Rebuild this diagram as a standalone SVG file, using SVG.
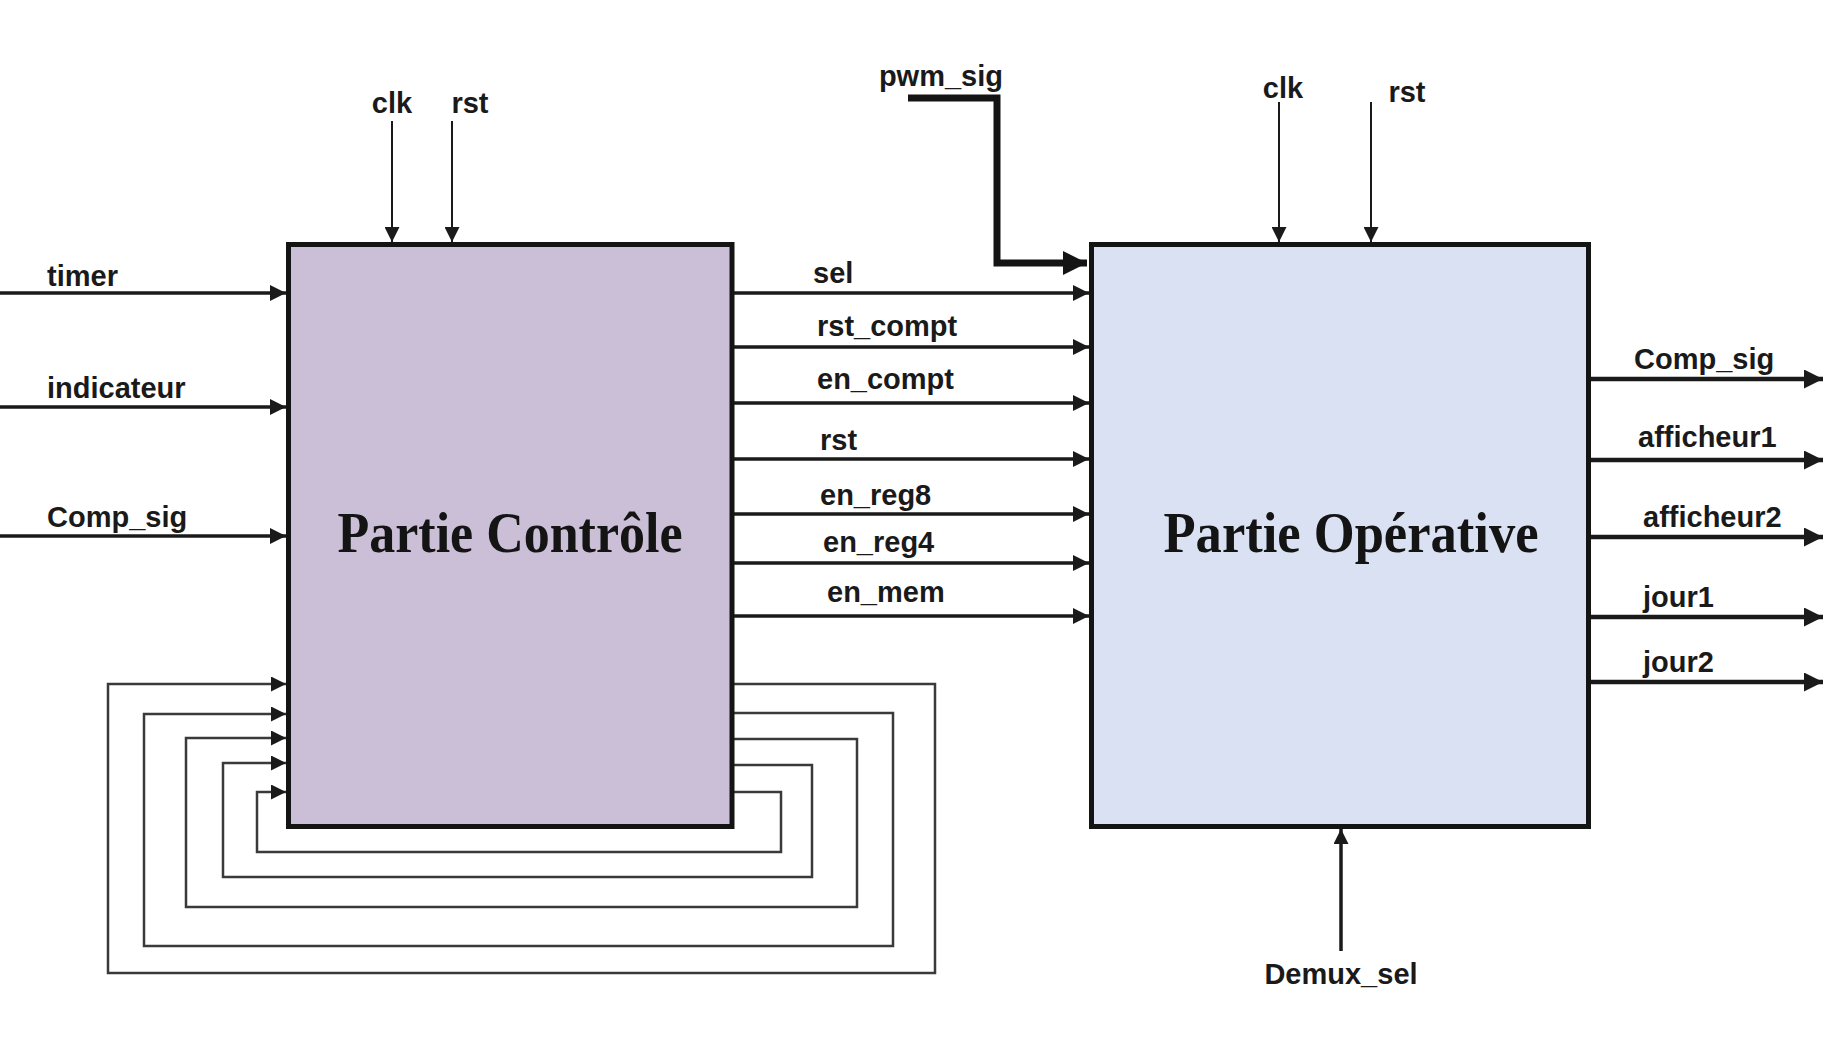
<svg xmlns="http://www.w3.org/2000/svg" width="1838" height="1042" viewBox="0 0 1838 1042">
<style>
.lbl{font-family:"Liberation Sans",Arial,sans-serif;font-weight:bold;font-size:29px;fill:#1a1a1a}
.ttl{font-family:"Liberation Serif","Times New Roman",serif;font-weight:bold;font-size:58px;fill:#141414}
.box{stroke:#141414;stroke-width:5}
.sig{fill:none;stroke:#1a1a1a;stroke-width:3.5}
.out{fill:none;stroke:#1a1a1a;stroke-width:4.5}
.thin{fill:none;stroke:#1a1a1a;stroke-width:2}
.loop{fill:none;stroke:#3a3a3a;stroke-width:2.5}
.bus{fill:none;stroke:#141414;stroke-width:7;stroke-linejoin:miter}
</style>
<defs>
<marker id="aS" markerUnits="userSpaceOnUse" markerWidth="15" markerHeight="15" refX="15" refY="7.5" orient="auto"><path d="M0,0 L15,7.5 L0,15 z" fill="#1a1a1a"/></marker>
<marker id="aM" markerUnits="userSpaceOnUse" markerWidth="16" markerHeight="16" refX="16" refY="8" orient="auto"><path d="M0,0 L16,8 L0,16 z" fill="#1a1a1a"/></marker>
<marker id="aL" markerUnits="userSpaceOnUse" markerWidth="19" markerHeight="19" refX="19" refY="9.5" orient="auto"><path d="M0,0 L19,9.5 L0,19 z" fill="#1a1a1a"/></marker>
<marker id="aXL" markerUnits="userSpaceOnUse" markerWidth="24" markerHeight="24" refX="24" refY="12" orient="auto"><path d="M0,0 L24,12 L0,24 z" fill="#141414"/></marker>
</defs>
<rect width="1838" height="1042" fill="#ffffff"/>

<g id="connectors">
  <!-- inputs to Partie Controle -->
  <path class="sig" d="M0,293 H286" marker-end="url(#aM)"/>
  <path class="sig" d="M0,407 H286" marker-end="url(#aM)"/>
  <path class="sig" d="M0,536 H286" marker-end="url(#aM)"/>
  <path class="thin" d="M392,121 V242" marker-end="url(#aS)"/>
  <path class="thin" d="M452,121 V242" marker-end="url(#aS)"/>
  <!-- control signals -->
  <path class="sig" d="M734,293 H1089" marker-end="url(#aM)"/>
  <path class="sig" d="M734,347 H1089" marker-end="url(#aM)"/>
  <path class="sig" d="M734,403 H1089" marker-end="url(#aM)"/>
  <path class="sig" d="M734,459 H1089" marker-end="url(#aM)"/>
  <path class="sig" d="M734,514 H1089" marker-end="url(#aM)"/>
  <path class="sig" d="M734,563 H1089" marker-end="url(#aM)"/>
  <path class="sig" d="M734,616 H1089" marker-end="url(#aM)"/>
  <!-- pwm_sig bus -->
  <path class="bus" d="M908,98 H997 V263 H1087" marker-end="url(#aXL)"/>
  <!-- clk/rst to Partie Operative -->
  <path class="thin" d="M1279,102 V242" marker-end="url(#aS)"/>
  <path class="thin" d="M1371,102 V242" marker-end="url(#aS)"/>
  <!-- outputs -->
  <path class="out" d="M1591,379 H1823" marker-end="url(#aL)"/>
  <path class="out" d="M1591,460 H1823" marker-end="url(#aL)"/>
  <path class="out" d="M1591,537 H1823" marker-end="url(#aL)"/>
  <path class="out" d="M1591,617 H1823" marker-end="url(#aL)"/>
  <path class="out" d="M1591,682 H1823" marker-end="url(#aL)"/>
  <!-- Demux_sel -->
  <path class="sig" d="M1341,951 V829" marker-end="url(#aS)"/>
  <!-- feedback loops -->
  <path class="loop" d="M734,684 H935 V973 H108 V684 H286" marker-end="url(#aS)"/>
  <path class="loop" d="M734,713 H893 V946 H144 V714 H286" marker-end="url(#aS)"/>
  <path class="loop" d="M734,739 H857 V907 H186 V738 H286" marker-end="url(#aS)"/>
  <path class="loop" d="M734,765 H812 V877 H223 V763 H286" marker-end="url(#aS)"/>
  <path class="loop" d="M734,792 H781 V852 H257 V792 H286" marker-end="url(#aS)"/>
</g>

<g id="partie-controle">
  <rect class="box" x="288.5" y="244.5" width="443.5" height="582" fill="#cbbfd8"/>
  <text class="ttl" x="510" y="552" text-anchor="middle" textLength="345" lengthAdjust="spacingAndGlyphs">Partie Contrôle</text>
</g>

<g id="partie-operative">
  <rect class="box" x="1091.5" y="244.5" width="497" height="582" fill="#dae1f2"/>
  <text class="ttl" x="1351" y="552" text-anchor="middle" textLength="375" lengthAdjust="spacingAndGlyphs">Partie Opérative</text>
</g>

<g id="labels">
  <text class="lbl" x="47" y="286">timer</text>
  <text class="lbl" x="47" y="398">indicateur</text>
  <text class="lbl" x="47" y="527">Comp_sig</text>
  <text class="lbl" x="392" y="113" text-anchor="middle">clk</text>
  <text class="lbl" x="470" y="113" text-anchor="middle">rst</text>
  <text class="lbl" x="1003" y="86" text-anchor="end">pwm_sig</text>
  <text class="lbl" x="813" y="283">sel</text>
  <text class="lbl" x="817" y="336">rst_compt</text>
  <text class="lbl" x="817" y="389">en_compt</text>
  <text class="lbl" x="820" y="450">rst</text>
  <text class="lbl" x="820" y="505">en_reg8</text>
  <text class="lbl" x="823" y="552">en_reg4</text>
  <text class="lbl" x="827" y="602">en_mem</text>
  <text class="lbl" x="1283" y="98" text-anchor="middle">clk</text>
  <text class="lbl" x="1407" y="102" text-anchor="middle">rst</text>
  <text class="lbl" x="1634" y="369">Comp_sig</text>
  <text class="lbl" x="1638" y="447">afficheur1</text>
  <text class="lbl" x="1643" y="527">afficheur2</text>
  <text class="lbl" x="1643" y="607">jour1</text>
  <text class="lbl" x="1643" y="672">jour2</text>
  <text class="lbl" x="1341" y="984" text-anchor="middle">Demux_sel</text>
</g>
</svg>
